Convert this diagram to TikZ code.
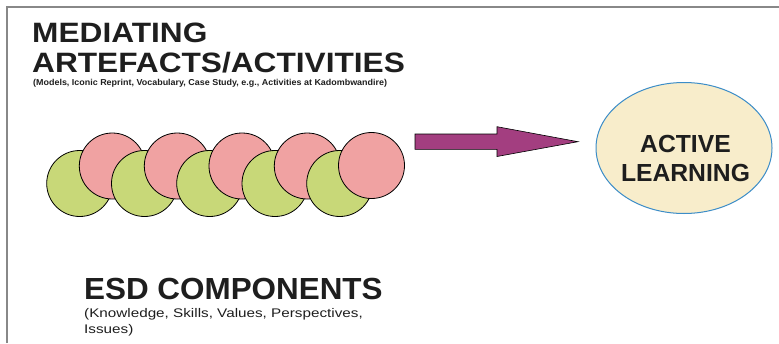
\documentclass[tikz,border=0pt]{standalone}
\usepackage{fontspec}
\usepackage{graphicx}
\setmainfont{Liberation Sans}
\usetikzlibrary{shapes.geometric}
\definecolor{gfill}{RGB}{200,216,120}
\definecolor{pfill}{RGB}{240,162,162}
\definecolor{afill}{RGB}{163,62,128}
\definecolor{efill}{RGB}{248,237,203}
\definecolor{edraw}{RGB}{60,141,200}
\definecolor{bordergray}{RGB}{136,136,136}
\definecolor{txt}{RGB}{30,30,30}
\begin{document}
\begin{tikzpicture}[x=1pt,y=-1pt,
  bead/.style={circle,draw=black,line width=0.8pt,minimum size=66pt,inner sep=0pt},
  gbead/.style={bead,fill=gfill},
  pbead/.style={bead,fill=pfill},
  lbl/.style={inner sep=0pt,anchor=base west,text=txt},
  clbl/.style={inner sep=0pt,anchor=base,text=txt,font=\fontsize{24.7}{24.7}\selectfont\bfseries}]
\useasboundingbox (0,0) rectangle (779,343);
\fill[white] (0,0) rectangle (779,343);
\draw[bordergray,line width=2pt] (6.5,343) -- (6.5,6.5) -- (779,6.5);

% titles
\node[lbl] (t1) at (32,42.7) {\fontsize{28}{28}\selectfont\bfseries\scalebox{1.13}[1]{MEDIATING}};
\node[lbl] (t2) at (32,72.7) {\fontsize{28}{28}\selectfont\bfseries\scalebox{1.13}[1]{ARTEFACTS/ACTIVITIES}};
\node[lbl] (t3) at (33,85.5) {\fontsize{8.6}{8.6}\selectfont\bfseries\scalebox{1.04}[1]{(Models, Iconic Reprint, Vocabulary, Case Study, e.g., Activities at Kadombwandire)}};

% beads
\node[gbead] (g1) at (79.7,183.5) {};
\node[pbead] (p1) at (112.3,166) {};
\node[gbead] (g2) at (144.5,183.5) {};
\node[pbead] (p2) at (177.3,166) {};
\node[gbead] (g3) at (209.7,183.5) {};
\node[pbead] (p3) at (242,166) {};
\node[gbead] (g4) at (275,183.5) {};
\node[pbead] (p4) at (307.3,166) {};
\node[gbead] (g5) at (339.7,183.5) {};
\node[pbead] (p5) at (371.5,165.5) {};

% block arrow
\filldraw[fill=afill,draw=black,line width=0.6pt]
  (415,134) -- (497,134) -- (497,126.7) -- (578,141.7) -- (497,156.5) -- (497,149.3) -- (415,149.3) -- cycle;

% active learning
\node[ellipse,draw=edraw,fill=efill,line width=1pt,minimum width=176pt,minimum height=131pt,inner sep=0pt] (al) at (684,148) {};
\node[clbl] (al1) at (685.5,152.7) {ACTIVE};
\node[clbl] (al2) at (685.5,181.7) {LEARNING};

% ESD
\node[lbl] (e1) at (84,299) {\fontsize{30.5}{30.5}\selectfont\bfseries\scalebox{1.03}[1]{ESD COMPONENTS}};
\node[lbl] (e2) at (84,317.5) {\fontsize{12.5}{12.5}\selectfont\scalebox{1.22}[1]{(Knowledge, Skills, Values, Perspectives,}};
\node[lbl] (e3) at (84,333) {\fontsize{12.5}{12.5}\selectfont\scalebox{1.22}[1]{Issues)}};
\end{tikzpicture}
\end{document}
